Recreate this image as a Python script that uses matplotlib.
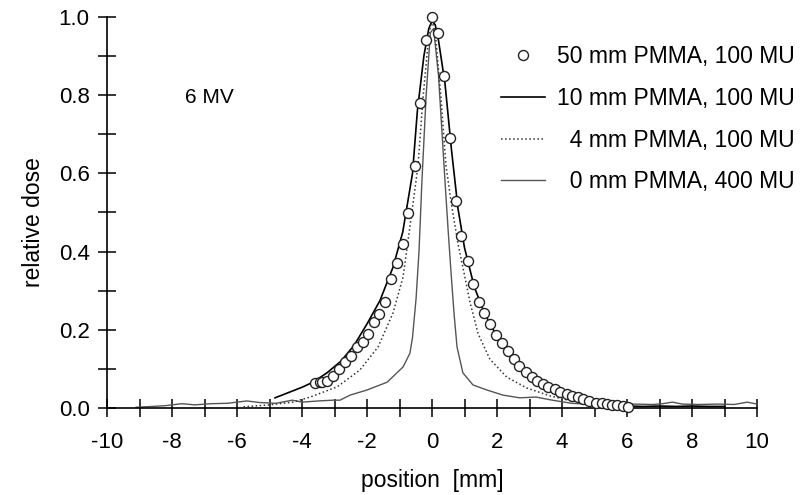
import matplotlib
matplotlib.use('Agg')
import matplotlib.pyplot as plt
from matplotlib.ticker import MultipleLocator

plt.rcParams['font.family'] = ['Liberation Sans', 'DejaVu Sans']
plt.rcParams['axes.unicode_minus'] = False

# 50 mm PMMA, 100 MU (circles)
x50 = [-3.6, -3.45, -3.38, -3.23, -3.05, -2.86, -2.68, -2.49, -2.31, -2.12, -1.97,
       -1.78, -1.62, -1.45, -1.26, -1.08, -0.89, -0.74, -0.52, -0.37, -0.18, 0.0,
       0.18, 0.37, 0.55, 0.74, 0.89, 1.1, 1.26, 1.45, 1.6, 1.78, 1.97, 2.15, 2.33,
       2.52, 2.68, 2.89, 3.07, 3.22, 3.4, 3.57, 3.78, 3.94, 4.15, 4.3, 4.5, 4.65,
       4.83, 5.05, 5.23, 5.38, 5.54, 5.69, 5.88, 6.03]
y50 = [0.064, 0.066, 0.067, 0.069, 0.082, 0.10, 0.118, 0.133, 0.156, 0.17, 0.19,
       0.22, 0.24, 0.27, 0.33, 0.37, 0.42, 0.50, 0.62, 0.78, 0.94, 1.0,
       0.96, 0.85, 0.69, 0.53, 0.44, 0.376, 0.317, 0.27, 0.243, 0.215, 0.187, 0.166, 0.146,
       0.125, 0.107, 0.092, 0.079, 0.069, 0.061, 0.054, 0.048, 0.041, 0.036, 0.031, 0.028, 0.023,
       0.018, 0.013, 0.012, 0.010, 0.008, 0.008, 0.005, 0.002]

# 10 mm PMMA, 100 MU (solid black)
x10 = [-4.83, -4.4, -4.0, -3.66, -3.23, -2.8, -2.4, -2.0, -1.6, -1.2, -0.9, -0.6,
       -0.45, -0.25, -0.1, 0.0, 0.1, 0.2, 0.4, 0.6, 0.8, 1.0, 1.3, 1.6, 2.0, 2.4,
       2.8, 3.2, 3.6, 4.0, 4.5, 5.0, 5.5, 6.0, 6.5, 7.0, 7.5, 8.0, 8.5, 9.0]
y10 = [0.026, 0.04, 0.053, 0.066, 0.09, 0.12, 0.16, 0.215, 0.275, 0.36, 0.45, 0.60,
       0.76, 0.90, 0.97, 0.99, 0.98, 0.94, 0.83, 0.66, 0.51, 0.41, 0.31, 0.245, 0.182, 0.138,
       0.10, 0.073, 0.054, 0.04, 0.027, 0.015, 0.008, 0.005, 0.004, 0.005, 0.004, 0.005, 0.004, 0.004]

# 4 mm PMMA, 100 MU (dotted)
x4 = [-5.8, -5.0, -4.28, -3.75, -2.92, -2.22, -1.66, -1.2, -0.89, -0.62, -0.43,
      -0.28, -0.09, 0.0, 0.1, 0.28, 0.43, 0.6, 0.8, 1.0, 1.17, 1.42, 1.78, 2.3,
      2.92, 3.63, 4.3, 5.0, 6.0]
y4 = [0.003, 0.008, 0.015, 0.028, 0.054, 0.097, 0.156, 0.243, 0.335, 0.50, 0.62,
      0.79, 0.96, 0.99, 0.96, 0.79, 0.62, 0.52, 0.42, 0.34, 0.27, 0.19, 0.125, 0.079,
      0.051, 0.031, 0.018, 0.01, 0.005]

# 0 mm PMMA, 400 MU (grey)
x0 = [-9.1, -8.6, -8.2, -7.7, -7.3, -6.8, -6.3, -5.7, -5.3, -4.8, -4.3, -4.0, -3.5,
      -3.05, -2.83, -2.52, -2.0, -1.38, -0.89, -0.68, -0.6, -0.49, -0.4, -0.31, -0.18,
      -0.05, 0.05, 0.2, 0.4, 0.5, 0.6, 0.68, 0.77, 0.95, 1.26, 1.69, 2.18, 2.7, 3.2,
      3.7, 4.3, 5.0, 5.6, 6.2, 6.8, 7.1, 7.4, 7.7, 8.2, 8.8, 9.3, 9.7, 10.0]
y0 = [0.002, 0.004, 0.006, 0.011, 0.008, 0.011, 0.012, 0.018, 0.014, 0.012, 0.02, 0.015, 0.018,
      0.02, 0.02, 0.033, 0.046, 0.066, 0.105, 0.14, 0.18, 0.28, 0.40, 0.58, 0.80,
      0.96, 0.97, 0.85, 0.58, 0.45, 0.33, 0.24, 0.156, 0.09, 0.059, 0.046, 0.033, 0.026, 0.028,
      0.02, 0.012, 0.009, 0.008, 0.01, 0.009, 0.011, 0.015, 0.01, 0.009, 0.01, 0.009, 0.015, 0.01]

fig = plt.figure(figsize=(8.09, 4.95), dpi=100)
ax = fig.add_axes([107 / 809, 1 - 408 / 495, 650 / 809, 391 / 495])

ax.plot(x50, y50, 'o', ms=7.2, mfc='white', mec='#222222', mew=1.0, clip_on=False,
        label='50 mm PMMA, 100 MU', zorder=4)
ax.plot(x10, y10, '-', color='black', lw=1.2, label='10 mm PMMA, 100 MU', zorder=3)
ax.plot(x4, y4, ':', color='#333333', lw=1.1, label='  4 mm PMMA, 100 MU', zorder=3)
ax.plot(x0, y0, '-', color='#555555', lw=1.0, label='  0 mm PMMA, 400 MU', zorder=2)

ax.set_xlim(-10, 10)
ax.set_ylim(0, 1.0)
ax.xaxis.set_major_locator(MultipleLocator(2))
ax.xaxis.set_minor_locator(MultipleLocator(1))
ax.yaxis.set_minor_locator(MultipleLocator(0.1))
ax.set_yticks([0, 0.2, 0.4, 0.6, 0.8, 1.0])
ax.set_yticklabels(['0.0', '0.2', '0.4', '0.6', '0.8', '1.0'])

for side in ['top', 'right']:
    ax.spines[side].set_visible(False)
for side in ['left', 'bottom']:
    ax.spines[side].set_linewidth(1.2)

ax.tick_params(which='both', direction='inout', length=13, width=1.1, labelsize=16)
ax.tick_params(axis='x', which='both', pad=11)
ax.tick_params(axis='y', which='both', pad=6)

ax.set_xlabel('position  [mm]', fontsize=16.5)
ax.set_ylabel('relative dose', fontsize=16.5)
ax.xaxis.set_label_coords(0.5, -0.155)
ax.yaxis.set_label_coords(-0.095, 0.476)

ax.text(-7.6, 0.795, '6 MV', fontsize=15, va='center', ha='left')

leg = fig.legend(loc='upper right', bbox_to_anchor=(795 / 809, 1 - 45 / 495),
                 frameon=False, fontsize=16.5, numpoints=1, handlelength=1.9,
                 handletextpad=0.55, labelspacing=0.82, borderpad=0, borderaxespad=0)

fig.savefig('out.png', dpi=100)
